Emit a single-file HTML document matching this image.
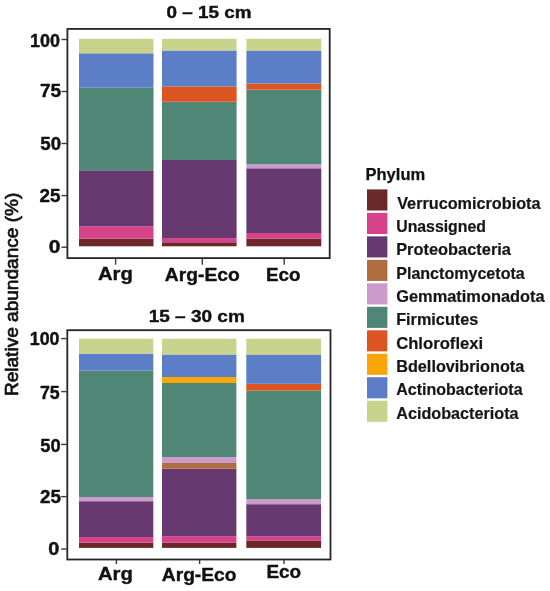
<!DOCTYPE html>
<html><head><meta charset="utf-8"><style>
html,body{margin:0;padding:0;background:#fff;}
svg{display:block;font-family:"Liberation Sans",sans-serif;filter:blur(0.5px);}
text{stroke:#111;stroke-width:0.4px;stroke-linejoin:round;}
</style></head><body>
<svg width="550" height="591" viewBox="0 0 550 591">
<rect width="550" height="591" fill="#fff"/>
<rect x="79.0" y="238.6" width="74.50" height="7.70" fill="#6a2928"/>
<rect x="79.0" y="226.3" width="74.50" height="12.30" fill="#d6418a"/>
<rect x="79.0" y="170.3" width="74.50" height="56.00" fill="#663a70"/>
<rect x="79.0" y="87.7" width="74.50" height="82.60" fill="#4f8676"/>
<rect x="79.0" y="53.3" width="74.50" height="34.40" fill="#5b7ec7"/>
<rect x="79.0" y="38.8" width="74.50" height="14.50" fill="#c8d48b"/>
<rect x="162.0" y="242.3" width="74.60" height="4.00" fill="#6a2928"/>
<rect x="162.0" y="238.1" width="74.60" height="4.20" fill="#d6418a"/>
<rect x="162.0" y="160.0" width="74.60" height="78.10" fill="#663a70"/>
<rect x="162.0" y="101.7" width="74.60" height="58.30" fill="#4f8676"/>
<rect x="162.0" y="86.4" width="74.60" height="15.30" fill="#dc5520"/>
<rect x="162.0" y="50.5" width="74.60" height="35.90" fill="#5b7ec7"/>
<rect x="162.0" y="38.8" width="74.60" height="11.70" fill="#c8d48b"/>
<rect x="246.4" y="238.6" width="74.90" height="7.70" fill="#6a2928"/>
<rect x="246.4" y="233.0" width="74.90" height="5.60" fill="#d6418a"/>
<rect x="246.4" y="168.3" width="74.90" height="64.70" fill="#663a70"/>
<rect x="246.4" y="164.2" width="74.90" height="4.10" fill="#cc9acb"/>
<rect x="246.4" y="89.6" width="74.90" height="74.60" fill="#4f8676"/>
<rect x="246.4" y="83.6" width="74.90" height="6.00" fill="#dc5520"/>
<rect x="246.4" y="50.5" width="74.90" height="33.10" fill="#5b7ec7"/>
<rect x="246.4" y="38.8" width="74.90" height="11.70" fill="#c8d48b"/>
<rect x="79.0" y="542.7" width="74.30" height="5.20" fill="#6a2928"/>
<rect x="79.0" y="537.1" width="74.30" height="5.60" fill="#d6418a"/>
<rect x="79.0" y="501.2" width="74.30" height="35.90" fill="#663a70"/>
<rect x="79.0" y="497.1" width="74.30" height="4.10" fill="#cc9acb"/>
<rect x="79.0" y="370.4" width="74.30" height="126.70" fill="#4f8676"/>
<rect x="79.0" y="353.6" width="74.30" height="16.80" fill="#5b7ec7"/>
<rect x="79.0" y="338.7" width="74.30" height="14.90" fill="#c8d48b"/>
<rect x="162.0" y="542.7" width="74.40" height="5.20" fill="#6a2928"/>
<rect x="162.0" y="536.2" width="74.40" height="6.50" fill="#d6418a"/>
<rect x="162.0" y="468.6" width="74.40" height="67.60" fill="#663a70"/>
<rect x="162.0" y="463.0" width="74.40" height="5.60" fill="#b06d3f"/>
<rect x="162.0" y="457.1" width="74.40" height="5.90" fill="#cc9acb"/>
<rect x="162.0" y="383.0" width="74.40" height="74.10" fill="#4f8676"/>
<rect x="162.0" y="377.0" width="74.40" height="6.00" fill="#f8a60a"/>
<rect x="162.0" y="354.5" width="74.40" height="22.50" fill="#5b7ec7"/>
<rect x="162.0" y="338.7" width="74.40" height="15.80" fill="#c8d48b"/>
<rect x="246.3" y="540.8" width="74.80" height="7.10" fill="#6a2928"/>
<rect x="246.3" y="536.2" width="74.80" height="4.60" fill="#d6418a"/>
<rect x="246.3" y="504.2" width="74.80" height="32.00" fill="#663a70"/>
<rect x="246.3" y="499.0" width="74.80" height="5.20" fill="#cc9acb"/>
<rect x="246.3" y="390.5" width="74.80" height="108.50" fill="#4f8676"/>
<rect x="246.3" y="383.8" width="74.80" height="6.70" fill="#dc5520"/>
<rect x="246.3" y="354.5" width="74.80" height="29.30" fill="#5b7ec7"/>
<rect x="246.3" y="338.7" width="74.80" height="15.80" fill="#c8d48b"/>
<rect x="67.4" y="28.9" width="262.3" height="229.2" fill="none" stroke="#262626" stroke-width="1.8"/>
<rect x="67.3" y="330.2" width="263.2" height="229.3" fill="none" stroke="#262626" stroke-width="1.8"/>
<line x1="61.5" x2="67" y1="39.5" y2="39.5" stroke="#3a3a3a" stroke-width="1.4"/>
<line x1="61.5" x2="67" y1="91.5" y2="91.5" stroke="#3a3a3a" stroke-width="1.4"/>
<line x1="61.5" x2="67" y1="143.5" y2="143.5" stroke="#3a3a3a" stroke-width="1.4"/>
<line x1="61.5" x2="67" y1="195.6" y2="195.6" stroke="#3a3a3a" stroke-width="1.4"/>
<line x1="61.5" x2="67" y1="247.2" y2="247.2" stroke="#3a3a3a" stroke-width="1.4"/>
<line x1="61.2" x2="66.6" y1="338.6" y2="338.6" stroke="#3a3a3a" stroke-width="1.4"/>
<line x1="61.2" x2="66.6" y1="391.6" y2="391.6" stroke="#3a3a3a" stroke-width="1.4"/>
<line x1="61.2" x2="66.6" y1="444.4" y2="444.4" stroke="#3a3a3a" stroke-width="1.4"/>
<line x1="61.2" x2="66.6" y1="496.6" y2="496.6" stroke="#3a3a3a" stroke-width="1.4"/>
<line x1="61.2" x2="66.6" y1="549.0" y2="549.0" stroke="#3a3a3a" stroke-width="1.4"/>
<line x1="115.6" x2="115.6" y1="258.5" y2="264.7" stroke="#3a3a3a" stroke-width="1.4"/>
<line x1="202.3" x2="202.3" y1="258.5" y2="264.7" stroke="#3a3a3a" stroke-width="1.4"/>
<line x1="284.2" x2="284.2" y1="258.5" y2="264.7" stroke="#3a3a3a" stroke-width="1.4"/>
<line x1="116.4" x2="116.4" y1="560" y2="564" stroke="#3a3a3a" stroke-width="1.4"/>
<line x1="199.6" x2="199.6" y1="560" y2="564" stroke="#3a3a3a" stroke-width="1.4"/>
<line x1="284.0" x2="284.0" y1="560" y2="564" stroke="#3a3a3a" stroke-width="1.4"/>
<text x="166.59" y="17.8" font-family="Liberation Sans, sans-serif" font-size="17" font-weight="bold" textLength="84.93" lengthAdjust="spacingAndGlyphs" fill="#111">0 – 15 cm</text>
<text x="148.68" y="321.6" font-family="Liberation Sans, sans-serif" font-size="17" font-weight="bold" textLength="96.15" lengthAdjust="spacingAndGlyphs" fill="#111">15 – 30 cm</text>
<text x="97.93" y="279.5" font-family="Liberation Sans, sans-serif" font-size="19" font-weight="bold" textLength="34.92" lengthAdjust="spacingAndGlyphs" fill="#111">Arg</text>
<text x="164.89" y="280.7" font-family="Liberation Sans, sans-serif" font-size="19" font-weight="bold" textLength="74.93" lengthAdjust="spacingAndGlyphs" fill="#111">Arg-Eco</text>
<text x="266.01" y="280.7" font-family="Liberation Sans, sans-serif" font-size="19" font-weight="bold" textLength="34.54" lengthAdjust="spacingAndGlyphs" fill="#111">Eco</text>
<text x="97.93" y="579.6" font-family="Liberation Sans, sans-serif" font-size="19" font-weight="bold" textLength="34.92" lengthAdjust="spacingAndGlyphs" fill="#111">Arg</text>
<text x="161.79" y="580.7" font-family="Liberation Sans, sans-serif" font-size="19" font-weight="bold" textLength="74.73" lengthAdjust="spacingAndGlyphs" fill="#111">Arg-Eco</text>
<text x="266.51" y="578.0" font-family="Liberation Sans, sans-serif" font-size="19" font-weight="bold" textLength="34.65" lengthAdjust="spacingAndGlyphs" fill="#111">Eco</text>
<text x="30.08" y="47.2" font-family="Liberation Sans, sans-serif" font-size="17.5" font-weight="bold" textLength="29.93" lengthAdjust="spacingAndGlyphs" fill="#111">100</text>
<text x="39.91" y="97.2" font-family="Liberation Sans, sans-serif" font-size="17.5" font-weight="bold" textLength="21.20" lengthAdjust="spacingAndGlyphs" fill="#111">75</text>
<text x="40.33" y="150.0" font-family="Liberation Sans, sans-serif" font-size="17.5" font-weight="bold" textLength="20.77" lengthAdjust="spacingAndGlyphs" fill="#111">50</text>
<text x="39.52" y="202.0" font-family="Liberation Sans, sans-serif" font-size="17.5" font-weight="bold" textLength="20.98" lengthAdjust="spacingAndGlyphs" fill="#111">25</text>
<text x="48.80" y="252.9" font-family="Liberation Sans, sans-serif" font-size="17.5" font-weight="bold" textLength="11.68" lengthAdjust="spacingAndGlyphs" fill="#111">0</text>
<text x="29.78" y="345.0" font-family="Liberation Sans, sans-serif" font-size="17.5" font-weight="bold" textLength="29.72" lengthAdjust="spacingAndGlyphs" fill="#111">100</text>
<text x="39.98" y="399.3" font-family="Liberation Sans, sans-serif" font-size="17.5" font-weight="bold" textLength="19.79" lengthAdjust="spacingAndGlyphs" fill="#111">75</text>
<text x="40.36" y="452.0" font-family="Liberation Sans, sans-serif" font-size="17.5" font-weight="bold" textLength="20.33" lengthAdjust="spacingAndGlyphs" fill="#111">50</text>
<text x="39.92" y="503.2" font-family="Liberation Sans, sans-serif" font-size="17.5" font-weight="bold" textLength="20.98" lengthAdjust="spacingAndGlyphs" fill="#111">25</text>
<text x="48.36" y="555.4" font-family="Liberation Sans, sans-serif" font-size="17.5" font-weight="bold" textLength="11.07" lengthAdjust="spacingAndGlyphs" fill="#111">0</text>
<text x="365.48" y="180.4" font-family="Liberation Sans, sans-serif" font-size="16.2" font-weight="bold" textLength="59.72" lengthAdjust="spacingAndGlyphs" fill="#111" style="stroke-width:0.25px">Phylum</text>
<rect x="367.0" y="189.40" width="20.4" height="21.1" fill="#6a2928"/>
<text x="397.20" y="208.50" font-family="Liberation Sans, sans-serif" font-size="16.2" font-weight="bold" textLength="143.33" lengthAdjust="spacingAndGlyphs" fill="#151515" style="stroke-width:0.2px;stroke:#151515">Verrucomicrobiota</text>
<rect x="367.0" y="212.88" width="20.4" height="21.1" fill="#d6418a"/>
<text x="396.22" y="231.87" font-family="Liberation Sans, sans-serif" font-size="16.2" font-weight="bold" textLength="89.73" lengthAdjust="spacingAndGlyphs" fill="#151515" style="stroke-width:0.2px;stroke:#151515">Unassigned</text>
<rect x="367.0" y="236.36" width="20.4" height="21.1" fill="#663a70"/>
<text x="396.19" y="255.24" font-family="Liberation Sans, sans-serif" font-size="16.2" font-weight="bold" textLength="114.78" lengthAdjust="spacingAndGlyphs" fill="#151515" style="stroke-width:0.2px;stroke:#151515">Proteobacteria</text>
<rect x="367.0" y="259.84" width="20.4" height="21.1" fill="#b06d3f"/>
<text x="396.21" y="278.61" font-family="Liberation Sans, sans-serif" font-size="16.2" font-weight="bold" textLength="128.54" lengthAdjust="spacingAndGlyphs" fill="#151515" style="stroke-width:0.2px;stroke:#151515">Planctomycetota</text>
<rect x="367.0" y="283.32" width="20.4" height="21.1" fill="#cc9acb"/>
<text x="396.19" y="301.98" font-family="Liberation Sans, sans-serif" font-size="16.2" font-weight="bold" textLength="148.53" lengthAdjust="spacingAndGlyphs" fill="#151515" style="stroke-width:0.2px;stroke:#151515">Gemmatimonadota</text>
<rect x="367.0" y="306.80" width="20.4" height="21.1" fill="#4f8676"/>
<text x="396.20" y="325.35" font-family="Liberation Sans, sans-serif" font-size="16.2" font-weight="bold" textLength="82.08" lengthAdjust="spacingAndGlyphs" fill="#151515" style="stroke-width:0.2px;stroke:#151515">Firmicutes</text>
<rect x="367.0" y="330.28" width="20.4" height="21.1" fill="#dc5520"/>
<text x="396.17" y="348.72" font-family="Liberation Sans, sans-serif" font-size="16.2" font-weight="bold" textLength="87.02" lengthAdjust="spacingAndGlyphs" fill="#151515" style="stroke-width:0.2px;stroke:#151515">Chloroflexi</text>
<rect x="367.0" y="353.76" width="20.4" height="21.1" fill="#f8a60a"/>
<text x="396.20" y="372.09" font-family="Liberation Sans, sans-serif" font-size="16.2" font-weight="bold" textLength="128.12" lengthAdjust="spacingAndGlyphs" fill="#151515" style="stroke-width:0.2px;stroke:#151515">Bdellovibrionota</text>
<rect x="367.0" y="377.24" width="20.4" height="21.1" fill="#5b7ec7"/>
<text x="396.21" y="395.46" font-family="Liberation Sans, sans-serif" font-size="16.2" font-weight="bold" textLength="126.43" lengthAdjust="spacingAndGlyphs" fill="#151515" style="stroke-width:0.2px;stroke:#151515">Actinobacteriota</text>
<rect x="367.0" y="400.72" width="20.4" height="21.1" fill="#c8d48b"/>
<text x="396.20" y="418.83" font-family="Liberation Sans, sans-serif" font-size="16.2" font-weight="bold" textLength="122.44" lengthAdjust="spacingAndGlyphs" fill="#151515" style="stroke-width:0.2px;stroke:#151515">Acidobacteriota</text>
<text transform="translate(17.7,396.12) rotate(-90)" x="0" y="0" font-family="Liberation Sans, sans-serif" font-size="18" textLength="203.51" lengthAdjust="spacingAndGlyphs" fill="#111" style="stroke-width:0.7px">Relative abundance (%)</text>
</svg>
</body></html>
